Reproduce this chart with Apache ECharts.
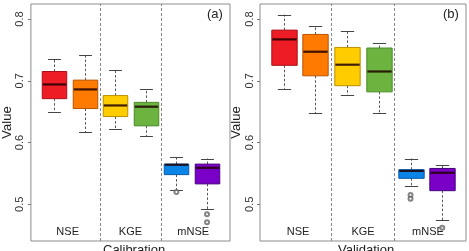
<!DOCTYPE html>
<html>
<head>
<meta charset="utf-8">
<script src="https://cdn.jsdelivr.net/npm/echarts@6/dist/echarts.min.js"></script>
<style>html,body{margin:0;padding:0;background:#fff}#c{width:469px;height:251px}</style>
</head>
<body>
<div id="c"></div>
<script>
// ---- data ----
const positions = [1, 2, 3, 4, 5, 6];
const groupLabels = ['NSE', 'KGE', 'mNSE'];
const groupLabelPos = [1.45, 3.5, 5.55];
const groupDividers = [2.5, 4.5];
const yTicks = [0.5, 0.6, 0.7, 0.8];
const panelTitles = ['Calibration', 'Validation'];
const panelTags = ['(a)', '(b)'];

const calMin = [0.650, 0.617, 0.622, 0.610, 0.523, 0.492];
const calQ1  = [0.671, 0.655, 0.642, 0.627, 0.548, 0.533];
const calMed = [0.694, 0.686, 0.660, 0.658, 0.564, 0.559];
const calQ3  = [0.715, 0.701, 0.676, 0.665, 0.565, 0.565];
const calMax = [0.735, 0.741, 0.718, 0.686, 0.576, 0.574];
const calOutX = [5, 6, 6];
const calOutY = [0.520, 0.484, 0.471];

const valMin = [0.687, 0.647, 0.677, 0.648, 0.529, 0.474];
const valQ1  = [0.725, 0.708, 0.692, 0.682, 0.542, 0.522];
const valMed = [0.767, 0.747, 0.726, 0.715, 0.554, 0.551];
const valQ3  = [0.782, 0.775, 0.754, 0.753, 0.556, 0.558];
const valMax = [0.807, 0.788, 0.780, 0.761, 0.574, 0.564];
const valOutX = [5, 5, 6];
const valOutY = [0.515, 0.509, 0.462];

const fills   = ['#ee1c25', '#ff7a00', '#ffcc00', '#6cb33f', '#0b84e8', '#7a00c8'];
const borders = ['#a8101a', '#b85400', '#b89000', '#4a8a28', '#0a5aa8', '#45007a'];

// ---- build ----
const FONT = '"Liberation Sans", Arial, sans-serif';
function boxData(mn, q1, md, q3, mx) {
  return positions.map((p, i) => [p, mn[i], q1[i], md[i], q3[i], mx[i], i]);
}
function renderBox(params, api) {
  const x = api.value(0);
  const ci = api.value(6);
  const unit = api.size([1, 0])[0];
  const bw = unit * 0.8, cw = unit * 0.42;
  const pLo = api.coord([x, api.value(1)]);
  const pQ1 = api.coord([x, api.value(2)]);
  const pMd = api.coord([x, api.value(3)]);
  const pQ3 = api.coord([x, api.value(4)]);
  const pHi = api.coord([x, api.value(5)]);
  const cx = Math.round(pMd[0]) + 0.5;
  const wStyle = {stroke: '#555', lineWidth: 1, lineDash: [2.5, 2]};
  const cStyle = {stroke: '#444', lineWidth: 1};
  return {
    type: 'group',
    children: [
      {type: 'line', shape: {x1: cx, y1: pQ3[1], x2: cx, y2: pHi[1]}, style: wStyle},
      {type: 'line', shape: {x1: cx, y1: pQ1[1], x2: cx, y2: pLo[1]}, style: wStyle},
      {type: 'line', shape: {x1: cx - cw / 2, y1: Math.round(pHi[1]) + 0.5, x2: cx + cw / 2, y2: Math.round(pHi[1]) + 0.5}, style: cStyle},
      {type: 'line', shape: {x1: cx - cw / 2, y1: Math.round(pLo[1]) + 0.5, x2: cx + cw / 2, y2: Math.round(pLo[1]) + 0.5}, style: cStyle},
      {type: 'rect', shape: {x: cx - bw / 2, y: pQ3[1], width: bw, height: pQ1[1] - pQ3[1]},
        style: {fill: fills[ci], stroke: borders[ci], lineWidth: 1}},
      {type: 'line', shape: {x1: cx - bw / 2 + 0.5, y1: pMd[1], x2: cx + bw / 2 - 0.5, y2: pMd[1]},
        style: {stroke: 'rgba(30,0,0,0.85)', lineWidth: 2.2}}
    ]
  };
}

const grids = [
  {left: 24, width: 206, top: 4, bottom: 10},
  {left: 260, width: 206, top: 4, bottom: 10}
];
const option = {
  animation: false,
  grid: grids.map(g => Object.assign({show: true, borderColor: '#8c8c8c', borderWidth: 1, backgroundColor: 'transparent'}, g)),
  xAxis: [0, 1].map(i => ({
    type: 'value', gridIndex: i, min: 0.25, max: 6.75,
    axisLine: {show: false}, axisTick: {show: false}, splitLine: {show: false},
    axisLabel: {
      inside: true, margin: 4, fontSize: 11, color: '#222', fontFamily: FONT,
      customValues: groupLabelPos,
      formatter: v => groupLabels[groupLabelPos.indexOf(v)] || ''
    }
  })),
  yAxis: [0, 1].map(i => ({
    type: 'value', gridIndex: i, min: 0.4405, max: 0.8243,
    axisLine: {show: false}, splitLine: {show: false},
    axisTick: {show: true, length: 3, customValues: yTicks, lineStyle: {color: '#777'}},
    axisLabel: {customValues: yTicks, rotate: 90, margin: 5, fontSize: 11, color: '#333', fontFamily: FONT,
      formatter: v => v.toFixed(1)},
    name: 'Value', nameLocation: 'middle', nameRotate: 90, nameGap: 12,
    nameTextStyle: {fontSize: 13, color: '#222', fontFamily: FONT}
  })),
  graphic: [
    {type: 'text', left: 103, top: 244, style: {text: panelTitles[0], fontSize: 13, fill: '#222', font: '13px ' + FONT}},
    {type: 'text', left: 338, top: 244, style: {text: panelTitles[1], fontSize: 13, fill: '#222', font: '13px ' + FONT}},
    {type: 'text', left: 207, top: 8, style: {text: panelTags[0], font: '13px ' + FONT, fill: '#222'}},
    {type: 'text', left: 443, top: 8, style: {text: panelTags[1], font: '13px ' + FONT, fill: '#222'}}
  ],
  series: [
    {type: 'custom', xAxisIndex: 0, yAxisIndex: 0, renderItem: renderBox,
      data: boxData(calMin, calQ1, calMed, calQ3, calMax),
      markLine: {silent: true, symbol: 'none', label: {show: false},
        lineStyle: {color: '#888', type: [3, 2], width: 1},
        data: groupDividers.map(x => ({xAxis: x}))}},
    {type: 'custom', xAxisIndex: 1, yAxisIndex: 1, renderItem: renderBox,
      data: boxData(valMin, valQ1, valMed, valQ3, valMax),
      markLine: {silent: true, symbol: 'none', label: {show: false},
        lineStyle: {color: '#888', type: [3, 2], width: 1},
        data: groupDividers.map(x => ({xAxis: x}))}},
    {type: 'scatter', xAxisIndex: 0, yAxisIndex: 0, symbol: 'emptyCircle', symbolSize: 4,
      itemStyle: {color: '#666', borderWidth: 0.8},
      data: calOutX.map((x, i) => [x, calOutY[i]])},
    {type: 'scatter', xAxisIndex: 1, yAxisIndex: 1, symbol: 'emptyCircle', symbolSize: 4,
      itemStyle: {color: '#666', borderWidth: 0.8},
      data: valOutX.map((x, i) => [x, valOutY[i]])}
  ]
};
echarts.init(document.getElementById('c'), null, {renderer: 'canvas'}).setOption(option);
</script>
</body>
</html>
